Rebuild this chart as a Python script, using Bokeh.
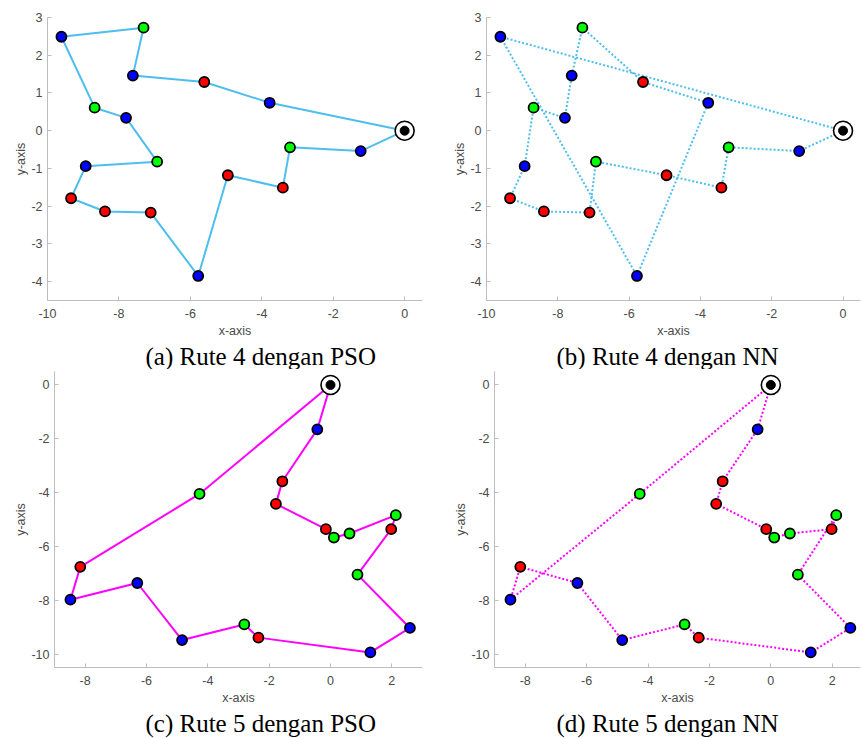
from bokeh.plotting import figure
from bokeh.layouts import column, row
from bokeh.models import Title
from bokeh.embed import file_html
from bokeh.resources import INLINE

# ---------------- data ----------------
# Route 4 nodes (index 0 = depot)
r4_x = [0.0, -1.23, -3.21, -3.41, -4.95, -5.78, -7.11, -8.39, -9.34, -8.93,
        -6.93, -7.80, -8.68, -9.61, -7.31, -7.61, -5.61, -3.78]
r4_y = [0.0, -0.54, -0.44, -1.51, -1.18, -3.85, -2.17, -2.14, -1.79, -0.94,
        -0.82, 0.34, 0.61, 2.49, 2.73, 1.46, 1.29, 0.74]
r4_type = ["D", "B", "G", "R", "R", "B", "R", "R", "R", "B",
           "G", "B", "G", "B", "G", "B", "R", "B"]
r4_pso = [0, 1, 2, 3, 4, 5, 6, 7, 8, 9, 10, 11, 12, 13, 14, 15, 16, 17, 0]
r4_nn = [0, 1, 2, 3, 4, 10, 6, 7, 8, 9, 12, 11, 15, 14, 16, 17, 5, 13, 0]

# Route 5 nodes (index 0 = depot)
r5_x = [0.0, -4.27, -8.16, -8.48, -6.30, -4.84, -2.81, -2.35, 1.30, 2.59,
        0.88, 1.98, 2.13, 0.62, 0.11, -0.15, -1.78, -1.57, -0.43]
r5_y = [0.0, -4.05, -6.76, -7.98, -7.36, -9.48, -8.90, -9.39, -9.94, -9.03,
        -7.05, -5.36, -4.84, -5.52, -5.67, -5.36, -4.42, -3.58, -1.65]
r5_type = ["D", "G", "R", "B", "B", "B", "G", "R", "B", "B",
           "G", "R", "G", "G", "G", "R", "R", "R", "B"]
r5_pso = [0, 1, 2, 3, 4, 5, 6, 7, 8, 9, 10, 11, 12, 13, 14, 15, 16, 17, 18, 0]
r5_nn = [0, 18, 17, 16, 15, 14, 13, 11, 12, 10, 9, 8, 7, 6, 5, 4, 2, 3, 1, 0]

r4_xticks = [-10, -8, -6, -4, -2, 0]
r4_yticks = [-4, -3, -2, -1, 0, 1, 2, 3]
r5_xticks = [-8, -6, -4, -2, 0, 2]
r5_yticks = [-10, -8, -6, -4, -2, 0]

captions = ["(a) Rute 4 dengan PSO", "(b) Rute 4 dengan NN",
            "(c) Rute 5 dengan PSO", "(d) Rute 5 dengan NN"]

# ---------------- style ----------------
TYPE_COLOR = {"B": "#0000ff", "R": "#ff0000", "G": "#00ff00"}
CYAN = "#4dbeee"
MAGENTA = "#ff00ff"
TEXT = "#4a4a4a"
AXIS = "#bdbdbd"
SANS = "Liberation Sans"
SERIF = "Liberation Serif"


def panel(xs, ys, types, order, color, dash, xr, yr, xt, yt,
          w, h, bl, br, bt, bb, caption, cap_left, cap_standoff):
    p = figure(width=w, height=h, x_range=xr, y_range=yr,
               output_backend="svg", toolbar_location=None,
               min_border_left=bl, min_border_right=br,
               min_border_top=bt, min_border_bottom=bb)
    p.outline_line_color = None
    p.xgrid.visible = False
    p.ygrid.visible = False
    p.background_fill_color = "white"
    p.border_fill_color = "white"
    p.xaxis.ticker = xt
    p.yaxis.ticker = yt
    p.xaxis.major_label_overrides = {t: str(t) for t in xt}
    p.yaxis.major_label_overrides = {t: str(t) for t in yt}
    for ax, lab in ((p.xaxis[0], "x-axis"), (p.yaxis[0], "y-axis")):
        ax.axis_label = lab
        ax.axis_label_text_font = SANS
        ax.axis_label_text_font_size = "12.5px"
        ax.axis_label_text_font_style = "normal"
        ax.axis_label_text_color = TEXT
        ax.major_label_text_font = SANS
        ax.major_label_text_font_size = "12.5px"
        ax.major_label_text_color = TEXT
        ax.major_tick_in = 4
        ax.major_tick_out = 0
        ax.minor_tick_line_color = None
        ax.axis_line_color = AXIS
        ax.major_tick_line_color = AXIS
        ax.axis_line_width = 1
    p.xaxis.major_label_standoff = 8
    p.xaxis.axis_label_standoff = 3
    p.yaxis.major_label_standoff = 5
    p.yaxis.axis_label_standoff = 0

    lx = [xs[i] for i in order]
    ly = [ys[i] for i in order]
    p.line(lx, ly, line_color=color, line_width=2, line_dash=dash)

    px = [xs[i] for i in range(len(xs)) if types[i] != "D"]
    py = [ys[i] for i in range(len(xs)) if types[i] != "D"]
    pc = [TYPE_COLOR[types[i]] for i in range(len(xs)) if types[i] != "D"]
    p.scatter(px, py, size=10, fill_color=pc, line_color="black", line_width=1.8)

    dx = [xs[i] for i in range(len(xs)) if types[i] == "D"]
    dy = [ys[i] for i in range(len(xs)) if types[i] == "D"]
    p.scatter(dx, dy, size=19, fill_color="white", line_color="black", line_width=1.6)
    p.scatter(dx, dy, size=9, fill_color="black", line_color="black", line_width=1)

    t = Title(text=caption, align="left", offset=cap_left, standoff=cap_standoff,
              text_font=SERIF, text_font_size="25px", text_font_style="normal",
              text_color="black")
    p.add_layout(t, "below")
    return p


pa = panel(r4_x, r4_y, r4_type, r4_pso, CYAN, "solid", (-10, 0.5), (-4.5, 3),
           r4_xticks, r4_yticks, 430, 369, 47, 8, 17, 67, captions[0], 98, 0)
pb = panel(r4_x, r4_y, r4_type, r4_nn, CYAN, "2 2", (-10, 0.49), (-4.5, 3),
           r4_xticks, r4_yticks, 431, 369, 56, 1, 17, 67, captions[1], 70, 0)
pc_ = panel(r5_x, r5_y, r5_type, r5_pso, MAGENTA, "solid", (-9, 3), (-10.5, 0.5),
            r5_xticks, r5_yticks, 430, 369, 54, 8, 2, 71, captions[2], 91, 0)
pd = panel(r5_x, r5_y, r5_type, r5_nn, MAGENTA, "2 2", (-9, 2.92), (-10.5, 0.5),
           r5_xticks, r5_yticks, 431, 369, 64, 1, 2, 71, captions[3], 62, 0)

layout = column(row(pa, pb), row(pc_, pd))

open("out.html", "w").write(file_html(layout, INLINE))
